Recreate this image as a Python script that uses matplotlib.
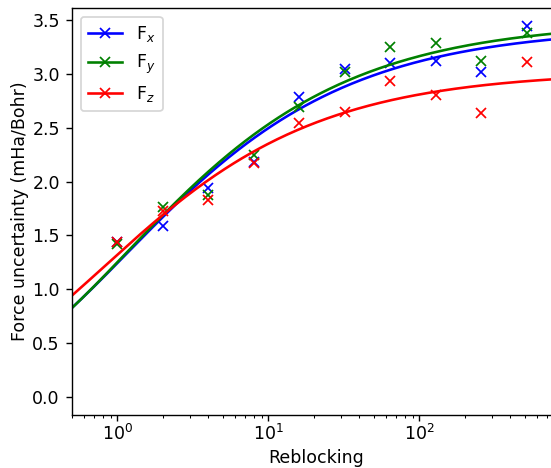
import numpy as np
import matplotlib
matplotlib.use("Agg")
import matplotlib.pyplot as plt
from matplotlib.lines import Line2D

# measured force uncertainties per reblocking level
reblock = [1, 2, 4, 8, 16, 32, 64, 128, 256, 512]
fx = [1.44, 1.59, 1.94, 2.18, 2.79, 3.05, 3.10, 3.12, 3.015, 3.445]
fy = [1.42, 1.76, 1.875, 2.245, 2.69, 3.015, 3.25, 3.29, 3.12, 3.38]
fz = [1.44, 1.73, 1.83, 2.17, 2.54, 2.65, 2.93, 2.80, 2.64, 3.11]

# fit parameters for  a * (1 + (b/n)^c)^(-d),  order: Fx, Fy, Fz
fit_a = [3.4363, 3.4917, 3.0238]
fit_b = [0.016788, 0.013335, 0.031623]
fit_c = [0.52, 0.52, 0.54]
fit_d = [9.0155, 10.1993, 5.7487]

labels = ["F$_x$", "F$_y$", "F$_z$"]
colors = ["b", "g", "r"]


def model(n, a, b, c, d):
    return a * (1 + (b / n) ** c) ** (-d)


fig = plt.figure(figsize=(551 / 125, 468 / 125), dpi=125)
ax = fig.add_axes([72 / 551, 53.3 / 468, 488 / 551, 406.4 / 468])

nn = np.logspace(np.log10(0.5), 3, 300)
for i, pts in enumerate([fx, fy, fz]):
    ax.plot(nn, model(nn, fit_a[i], fit_b[i], fit_c[i], fit_d[i]), color=colors[i])
    ax.plot(reblock, pts, "x", color=colors[i], ms=6)

ax.set_xscale("log")
ax.set_xlim(0.5, 0.5 * 10 ** (488 / 151))
ax.set_ylim(-0.167, 3.61)
ax.tick_params(axis="x", pad=2)
ax.set_xlabel("Reblocking", labelpad=2.5)
ax.set_ylabel("Force uncertainty (mHa/Bohr)", labelpad=2)

handles = [Line2D([], [], color=c, marker="x") for c in colors]
ax.legend(handles, labels, loc="upper left")

fig.savefig("out.png", dpi=125)
